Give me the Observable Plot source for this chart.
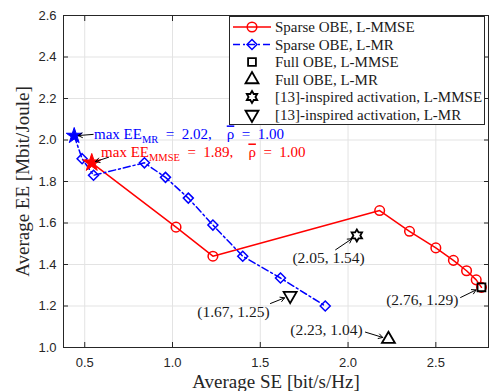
<!DOCTYPE html>
<html><head><meta charset="utf-8">
<script src="https://cdn.jsdelivr.net/npm/d3@7"></script>
<script src="https://cdn.jsdelivr.net/npm/@observablehq/plot@0.6"></script>
<style>
body{margin:0;background:#fff;}
#wrap{position:relative;width:490px;height:391px;}
#legend{position:absolute;left:229px;top:16px;width:256px;height:109px;border:1px solid #262626;background:#fff;box-sizing:border-box;}
</style></head><body><div id="wrap"><div id="legend"></div></div>
<script>
// ---- data ----
const xTicks = [0.5, 1, 1.5, 2, 2.5];
const yTicks = [1, 1.2, 1.4, 1.6, 1.8, 2, 2.2, 2.4, 2.6];
const seriesNames = ["Sparse OBE, L-MMSE", "Sparse OBE, L-MR", "Full OBE, L-MMSE", "Full OBE, L-MR",
  "[13]-inspired activation, L-MMSE", "[13]-inspired activation, L-MR"];
// Sparse OBE, L-MMSE (first point = max EE)
const mmseSE = [0.54, 1.02, 1.23, 2.18, 2.35, 2.50, 2.60, 2.675, 2.73, 2.76];
const mmseEE = [1.89, 1.58, 1.44, 1.66, 1.56, 1.48, 1.42, 1.37, 1.326, 1.29];
// Sparse OBE, L-MR (first point = max EE)
const mrSE = [0.44, 0.485, 0.55, 0.84, 0.96, 1.09, 1.23, 1.40, 1.615, 1.87];
const mrEE = [2.02, 1.91, 1.83, 1.89, 1.82, 1.72, 1.59, 1.44, 1.335, 1.20];
// single-point series: Full OBE MMSE, Full OBE MR, [13] MMSE, [13] MR
const singleSE = [2.76, 2.23, 2.05, 1.67];
const singleEE = [1.29, 1.04, 1.54, 1.25];
const singleLabels = ["(2.76, 1.29)", "(2.23, 1.04)", "(2.05, 1.54)", "(1.67, 1.25)"];
// callout anchor (label) and arrow-tail positions, in data units
const labelSE = [2.423, 1.877, 1.889, 1.347];
const labelEE = [1.230, 1.085, 1.429, 1.170];
const tailSE = [2.641, 2.099, 1.929, 1.558];
const tailEE = [1.241, 1.074, 1.471, 1.212];
// _{..} = subscript, ^{..} = overlined
const maxTexts = ["max EE_{MR}\u2002=\u20022.02,\u2003^{ρ}\u2002=\u20021.00",
                  "max EE_{MMSE}\u2002=\u20021.89,\u2003^{ρ}\u2002=\u20021.00"];
const maxTextSE = [0.553, 0.593];
const maxTextEE = [2.026, 1.939];
const maxTailSE = [0.548, 0.636];
const maxTailEE = [2.027, 1.917];

// ---- build ----
const red = "#ff0000", blue = "#0000ff", black = "#000000";
const mmse = mmseSE.map((x, i) => ({x, y: mmseEE[i]}));
const mr = mrSE.map((x, i) => ({x, y: mrEE[i]}));
const singles = singleSE.map((x, i) => ({x, y: singleEE[i], label: singleLabels[i], lx: labelSE[i], ly: labelEE[i], tx: tailSE[i], ty: tailEE[i]}));
const maxPts = [
  {x: mrSE[0], y: mrEE[0], text: maxTexts[0], lx: maxTextSE[0], ly: maxTextEE[0], tx: maxTailSE[0], ty: maxTailEE[0], color: blue},
  {x: mmseSE[0], y: mmseEE[0], text: maxTexts[1], lx: maxTextSE[1], ly: maxTextEE[1], tx: maxTailSE[1], ty: maxTailEE[1], color: red}
];

const triDown = {draw(ctx, size) {
  const r = Math.sqrt(size) * 0.6824, t = r * Math.sqrt(3) / 2;
  ctx.moveTo(0, r); ctx.lineTo(-t, -r / 2); ctx.lineTo(t, -r / 2); ctx.closePath();
}};
const hexagram = {draw(ctx, size) {
  const R = Math.sqrt(size / Math.PI) * 1.3, ri = R / Math.sqrt(3);
  for (let i = 0; i < 12; i++) {
    const a = -Math.PI / 2 + i * Math.PI / 6, rr = i % 2 ? ri : R;
    const px = rr * Math.cos(a), py = rr * Math.sin(a);
    if (i === 0) ctx.moveTo(px, py); else ctx.lineTo(px, py);
  }
  ctx.closePath();
}};
const singleSymbols = [d3.symbolSquare2, d3.symbolTriangle2, hexagram, triDown];
const singleR = [5, 6.2, 4.6, 6.2];

const serif = "Liberation Serif";
const plot = Plot.plot({
  width: 490, height: 391,
  marginTop: 15, marginBottom: 44, marginLeft: 63, marginRight: 2,
  x: {domain: [0.379, 2.8]},
  y: {domain: [1, 2.6]},
  style: {fontFamily: "Liberation Sans", fontSize: "13px", color: "#262626", background: "#fff", overflow: "visible"},
  marks: [
    Plot.gridX(xTicks, {stroke: "#e3e3e3", strokeOpacity: 1}),
    Plot.gridY(yTicks, {stroke: "#e3e3e3", strokeOpacity: 1}),
    Plot.frame({stroke: "#262626"}),
    Plot.axisX({ticks: xTicks, anchor: "bottom", tickSize: 0, tickPadding: 10, label: null, fill: "#262626"}),
    Plot.axisY({ticks: yTicks, anchor: "left", tickSize: 0, tickPadding: 7, label: null, fill: "#262626"}),
    Plot.axisX({ticks: xTicks, anchor: "bottom", tickSize: -5, tickFormat: () => "", label: null}),
    Plot.axisX({ticks: xTicks, anchor: "top", tickSize: -5, tickFormat: () => "", label: null}),
    Plot.axisY({ticks: yTicks, anchor: "left", tickSize: -5, tickFormat: () => "", label: null}),
    Plot.axisY({ticks: yTicks, anchor: "right", tickSize: -5, tickFormat: () => "", label: null}),
    Plot.text(["Average SE [bit/s/Hz]"], {frameAnchor: "bottom", dy: 34, text: d => d, fontFamily: serif, fontSize: 19, fill: "#262626", textAnchor: "middle", lineAnchor: "middle"}),
    Plot.text(["Average EE [Mbit/Joule]"], {frameAnchor: "left", dx: -41, rotate: -90, text: d => d, fontFamily: serif, fontSize: 19, fill: "#262626", textAnchor: "middle", lineAnchor: "middle"}),
    Plot.line(mmse, {x: "x", y: "y", stroke: red, strokeWidth: 1.5}),
    Plot.line(mr, {x: "x", y: "y", stroke: blue, strokeWidth: 1.5, strokeDasharray: "7,3,2,3"}),
    Plot.dot(mmse.slice(1), {x: "x", y: "y", symbol: "circle", r: 4.8, stroke: red, fill: "none", strokeWidth: 1.5}),
    Plot.dot(mr.slice(1), {x: "x", y: "y", symbol: "diamond2", r: 4.5, stroke: blue, fill: "none", strokeWidth: 1.5}),
    ...singles.map((d, i) => Plot.dot([d], {x: "x", y: "y", symbol: singleSymbols[i], r: singleR[i], stroke: black, fill: "none", strokeWidth: 1.8})),
    Plot.dot([maxPts[0]], {x: "x", y: "y", symbol: "star", r: 5, fill: blue, stroke: blue, strokeWidth: 1}),
    Plot.dot([maxPts[1]], {x: "x", y: "y", symbol: "star", r: 5.6, fill: red, stroke: red, strokeWidth: 1}),
    Plot.arrow(singles, {x1: "tx", y1: "ty", x2: "x", y2: "y", insetEnd: 6, stroke: black, strokeWidth: 1, headLength: 7}),
    Plot.arrow(maxPts, {x1: "tx", y1: "ty", x2: "x", y2: "y", insetEnd: 4, stroke: black, strokeWidth: 1, headLength: 7}),
    Plot.text(singles, {x: "lx", y: "ly", text: "label", fontFamily: serif, fontSize: 15.5, fill: "#1a1a1a", lineAnchor: "middle"}),
    Plot.text(maxPts, {x: "lx", y: "ly", text: "text", fill: "color", fontFamily: serif, fontSize: 15, textAnchor: "start", lineAnchor: "middle"})
  ]
});

// subscripts and overlines
d3.select(plot).selectAll("text").each(function() {
  const s = this.textContent;
  if (!/[_^]\{/.test(s)) return;
  const parts = s.split(/([_^]\{[^}]*\})/).filter(p => p.length);
  this.textContent = "";
  const t = d3.select(this).attr("font-family", serif);
  let shift = 0;
  for (const p of parts) {
    if (p.startsWith("_{")) {
      t.append("tspan").attr("font-size", 10.5).attr("dy", 3.5).text(p.slice(2, -1));
      shift = 3.5;
    } else {
      const sp = t.append("tspan");
      if (shift) { sp.attr("dy", -shift); shift = 0; }
      if (p.startsWith("^{")) sp.style("text-decoration", "overline").text(p.slice(2, -1));
      else sp.text(p);
    }
  }
});

const wrap = document.getElementById("wrap");
wrap.insertBefore(plot, wrap.firstChild);

// legend
const legendRows = [
  {name: seriesNames[0], color: red, line: true, dash: null, sym: d3.symbolCircle, r: 4.8},
  {name: seriesNames[1], color: blue, line: true, dash: "7,3,2,3", sym: d3.symbolDiamond2, r: 4.5},
  {name: seriesNames[2], color: black, line: false, sym: singleSymbols[0], r: singleR[0]},
  {name: seriesNames[3], color: black, line: false, sym: singleSymbols[1], r: singleR[1]},
  {name: seriesNames[4], color: black, line: false, sym: singleSymbols[2], r: singleR[2]},
  {name: seriesNames[5], color: black, line: false, sym: singleSymbols[3], r: singleR[3]}
];
const lsvg = d3.create("svg").attr("width", 254).attr("height", 107).style("display", "block");
legendRows.forEach((row, i) => {
  const y = 10 + i * 17.5;
  const g = lsvg.append("g");
  if (row.line) {
    g.append("line").attr("x1", 3).attr("x2", 41).attr("y1", y).attr("y2", y)
      .attr("stroke", row.color).attr("stroke-width", 1.5).attr("stroke-dasharray", row.dash);
  }
  g.append("path").attr("d", d3.symbol(row.sym, Math.PI * row.r * row.r)())
    .attr("transform", `translate(22,${y})`).attr("fill", "none").attr("stroke", row.color)
    .attr("stroke-width", row.line ? 1.5 : 1.8);
  g.append("text").attr("x", 45).attr("y", y).attr("dy", "0.35em")
    .attr("font-family", serif).attr("font-size", 15).attr("fill", "#1a1a1a").text(row.name);
});
document.getElementById("legend").appendChild(lsvg.node());
</script>
</body></html>
